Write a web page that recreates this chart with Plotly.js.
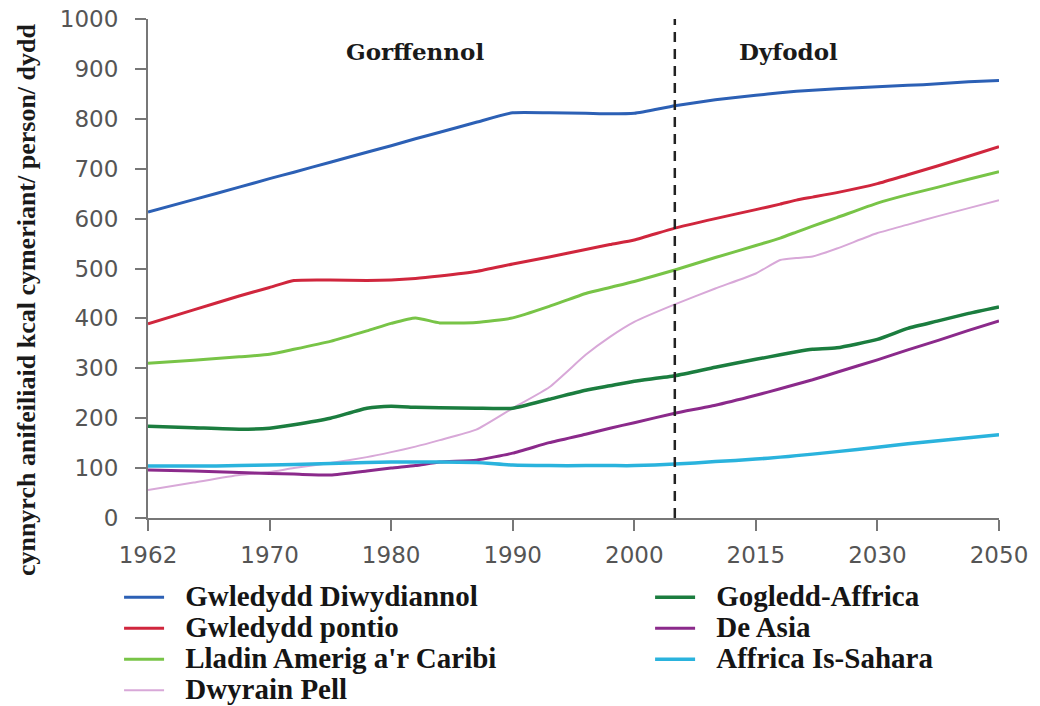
<!DOCTYPE html>
<html>
<head>
<meta charset="utf-8">
<script src="https://cdn.plot.ly/plotly-3.0.1.min.js"></script>
<style>
  html, body { margin: 0; padding: 0; background: #ffffff; }
  #chart { width: 1040px; height: 706px; }
</style>
</head>
<body>
<div id="chart"></div>
<script>
// ---- Data ----
const tickYears = [1962, 1970, 1980, 1990, 2000, 2015, 2030, 2050];
const projectionStartYear = 2005;

const years = [1962, 1965, 1968, 1970, 1972, 1975, 1978, 1980, 1982, 1984, 1987, 1990, 1993, 1996, 1998, 2000,
               2005, 2010, 2015, 2018, 2020, 2022, 2025, 2030, 2035, 2040, 2045, 2050];

const diwydiannol = [613, 638, 663, 680, 693, 713, 733, 746, 760, 773, 793, 812, 812, 811, 810, 811,
                     826, 838, 847, 852, 855, 857, 860, 864, 867, 870, 874, 877];
const pontio      = [389, 417, 445, 462, 476, 477, 476, 477, 480, 485, 494, 509, 523, 538, 548, 557,
                     581, 600, 618, 629, 637, 643, 652, 670, 688, 706, 725, 744];
const lladin      = [310, 316, 323, 328, 338, 354, 375, 390, 401, 391, 392, 401, 424, 450, 462, 474,
                     497, 522, 546, 561, 573, 585, 602, 631, 648, 663, 679, 694];
const dwyrainPell = [56, 71, 86, 92, 100, 110, 122, 132, 143, 156, 177, 220, 262, 327, 363, 393,
                     428, 460, 490, 517, 521, 524, 540, 571, 588, 605, 621, 637];
const gogleddAffrica = [184, 181, 178, 180, 187, 200, 220, 224, 222, 221, 220, 220, 238, 256, 265, 274,
                        285, 302, 318, 327, 333, 338, 341, 358, 380, 395, 410, 423];
const deAsia      = [96, 94, 91, 89, 88, 86, 94, 100, 105, 112, 116, 130, 151, 168, 180, 191,
                     210, 226, 246, 259, 268, 277, 292, 317, 337, 356, 376, 395];
const affricaIsSahara = [104, 104, 105, 106, 107, 109, 111, 112, 112, 112, 111, 106, 105, 105, 105, 105,
                         108, 113, 118, 122, 125, 128, 133, 142, 149, 155, 161, 167];

const seriesNames = ["Gwledydd Diwydiannol", "Gwledydd pontio", "Lladin Amerig a'r Caribi", "Dwyrain Pell",
                     "Gogledd-Affrica", "De Asia", "Affrica Is-Sahara"];
const seriesValues = [diwydiannol, pontio, lladin, dwyrainPell, gogleddAffrica, deAsia, affricaIsSahara];
const seriesColors = ["#2c60b5", "#d0263d", "#78c447", "#d8a8d8", "#1b7d3f", "#8b2a8b", "#2ab3dd"];
const seriesWidths = [3, 3, 3, 2, 3.5, 3, 3.5];
const seriesLegend = ["legend", "legend", "legend", "legend", "legend2", "legend2", "legend2"];

const periodLabels = ["Gorffennol", "Dyfodol"];
const yTitle = "cynnyrch anifeiliaid kcal cymeriant/ person/ dydd";

// ---- Axis mapping: the x axis is piecewise, each tick interval has equal width ----
function yearToPos(y) {
  for (let i = 0; i < tickYears.length - 1; i++) {
    if (y <= tickYears[i + 1]) {
      return i + (y - tickYears[i]) / (tickYears[i + 1] - tickYears[i]);
    }
  }
  return tickYears.length - 1;
}
const xPos = years.map(yearToPos);

const nb = "\u00a0\u00a0\u00a0";
const traces = seriesNames.map((name, i) => ({
  type: "scatter",
  mode: "lines",
  x: xPos,
  y: seriesValues[i],
  name: nb + '<span style="font-size:29px">' + name + '</span>',
  legend: seriesLegend[i],
  line: { color: seriesColors[i], width: seriesWidths[i], shape: "spline", smoothing: 0.5 },
  hoverinfo: "skip"
}));

const axisGrey = "#777777";
const tickFont = { family: "DejaVu Sans", size: 23, color: "#555555" };
const legendFont = { family: "Liberation Serif", size: 21.5, color: "#151515", weight: "bold" };

const layout = {
  width: 1040,
  height: 706,
  margin: { l: 148, r: 41, t: 19, b: 188, autoexpand: false },
  paper_bgcolor: "#ffffff",
  plot_bgcolor: "#ffffff",
  showlegend: true,
  xaxis: {
    range: [0, tickYears.length - 1],
    tickmode: "array",
    tickvals: tickYears.map(yearToPos),
    ticktext: tickYears.map(String),
    showgrid: false,
    zeroline: false,
    showline: true,
    linecolor: axisGrey,
    linewidth: 2,
    ticks: "outside",
    ticklen: 11,
    tickwidth: 2,
    tickcolor: axisGrey,
    tickfont: tickFont,
    ticklabelstandoff: 4,
    fixedrange: true
  },
  yaxis: {
    range: [0, 1000],
    tickmode: "linear",
    tick0: 0,
    dtick: 100,
    showgrid: false,
    zeroline: false,
    showline: true,
    linecolor: axisGrey,
    linewidth: 2,
    ticks: "outside",
    ticklen: 11,
    tickwidth: 2,
    tickcolor: axisGrey,
    tickfont: tickFont,
    ticklabelstandoff: 12,
    fixedrange: true
  },
  legend: {
    x: -0.034, xanchor: "left",
    y: -0.118, yanchor: "top",
    orientation: "v",
    font: legendFont,
    bgcolor: "rgba(0,0,0,0)",
    itemwidth: 40,
    tracegroupgap: 0
  },
  legend2: {
    x: 0.590, xanchor: "left",
    y: -0.118, yanchor: "top",
    orientation: "v",
    font: legendFont,
    bgcolor: "rgba(0,0,0,0)",
    itemwidth: 40,
    tracegroupgap: 0
  },
  shapes: [{
    type: "line", xref: "x", yref: "y",
    x0: yearToPos(projectionStartYear), x1: yearToPos(projectionStartYear),
    y0: 0, y1: 1000,
    line: { color: "#222222", width: 2.5, dash: "10px,7px" }
  }],
  annotations: [
    { text: periodLabels[0], xref: "paper", yref: "paper", x: 0.314, y: 0.934, xanchor: "center", yanchor: "middle",
      showarrow: false, font: { family: "DejaVu Serif", size: 23, color: "#1a1a1a", weight: "bold" } },
    { text: periodLabels[1], xref: "paper", yref: "paper", x: 0.753, y: 0.934, xanchor: "center", yanchor: "middle",
      showarrow: false, font: { family: "DejaVu Serif", size: 23, color: "#1a1a1a", weight: "bold" } },
    { text: yTitle, xref: "paper", yref: "paper", x: -0.142, y: 0.437, xanchor: "center", yanchor: "middle",
      textangle: -90, showarrow: false, font: { family: "Liberation Serif", size: 26, color: "#1a1a1a", weight: "bold" } }
  ]
};

Plotly.newPlot("chart", traces, layout, { staticPlot: true, displayModeBar: false });
</script>
</body>
</html>
